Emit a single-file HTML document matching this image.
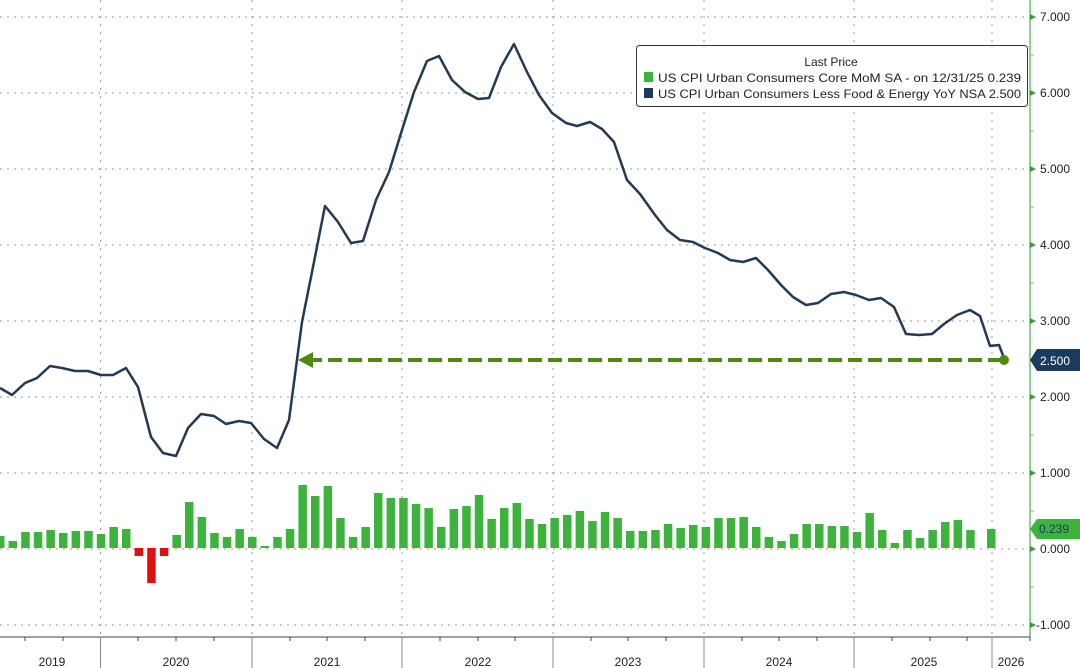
<!DOCTYPE html>
<html><head><meta charset="utf-8"><style>
html,body{margin:0;padding:0;background:#fff;}
svg{display:block;font-family:"Liberation Sans",sans-serif;}
</style></head><body>
<svg width="1080" height="668" viewBox="0 0 1080 668" xmlns="http://www.w3.org/2000/svg">
<rect width="1080" height="668" fill="#fff"/>
<!-- horizontal grid -->
<g stroke="#999" stroke-width="1" stroke-dasharray="2,5">
<line x1="0" y1="17" x2="1030" y2="17"/>
<line x1="0" y1="93" x2="1030" y2="93"/>
<line x1="0" y1="169" x2="1030" y2="169"/>
<line x1="0" y1="245" x2="1030" y2="245"/>
<line x1="0" y1="321" x2="1030" y2="321"/>
<line x1="0" y1="397" x2="1030" y2="397"/>
<line x1="0" y1="473" x2="1030" y2="473"/>
<line x1="0" y1="549" x2="1030" y2="549"/>
<line x1="0" y1="625" x2="1030" y2="625"/>
</g>
<g stroke="#999" stroke-width="1" stroke-dasharray="2,6">
<line x1="100.5" y1="0" x2="100.5" y2="637"/>
<line x1="252" y1="0" x2="252" y2="637"/>
<line x1="402" y1="0" x2="402" y2="637"/>
<line x1="553" y1="0" x2="553" y2="637"/>
<line x1="704" y1="0" x2="704" y2="637"/>
<line x1="854" y1="0" x2="854" y2="637"/>
<line x1="992" y1="0" x2="992" y2="637"/>
</g>
<!-- bars -->
<g fill="#3db33d">
<rect x="-4" y="536" width="8.5" height="12"/><rect x="8.6" y="541" width="8.5" height="7"/><rect x="21.2" y="532" width="8.5" height="16"/><rect x="33.8" y="532" width="8.5" height="16"/><rect x="46.4" y="530" width="8.5" height="18"/><rect x="59" y="533" width="8.5" height="15"/><rect x="71.6" y="531" width="8.5" height="17"/><rect x="84.2" y="531" width="8.5" height="17"/><rect x="96.8" y="534" width="8.5" height="14"/><rect x="109.4" y="527" width="8.5" height="21"/><rect x="122" y="529" width="8.5" height="19"/>
<rect x="172.4" y="535" width="8.5" height="13"/><rect x="185" y="502" width="8.5" height="46"/><rect x="197.6" y="517" width="8.5" height="31"/><rect x="210.2" y="533" width="8.5" height="15"/><rect x="222.8" y="537" width="8.5" height="11"/><rect x="235.4" y="529" width="8.5" height="19"/><rect x="248" y="537" width="8.5" height="11"/><rect x="260.6" y="546" width="8.5" height="2"/><rect x="273.2" y="537" width="8.5" height="11"/><rect x="285.8" y="529" width="8.5" height="19"/><rect x="298.4" y="485" width="8.5" height="63"/><rect x="311" y="496" width="8.5" height="52"/><rect x="323.6" y="486" width="8.5" height="62"/><rect x="336.2" y="518" width="8.5" height="30"/><rect x="348.8" y="537" width="8.5" height="11"/><rect x="361.4" y="527" width="8.5" height="21"/><rect x="374" y="493" width="8.5" height="55"/><rect x="386.6" y="498" width="8.5" height="50"/><rect x="399.2" y="498" width="8.5" height="50"/><rect x="411.8" y="504" width="8.5" height="44"/><rect x="424.4" y="508" width="8.5" height="40"/><rect x="437" y="527" width="8.5" height="21"/><rect x="449.6" y="509" width="8.5" height="39"/><rect x="462.2" y="506" width="8.5" height="42"/><rect x="474.8" y="495" width="8.5" height="53"/><rect x="487.4" y="519" width="8.5" height="29"/><rect x="500" y="508" width="8.5" height="40"/><rect x="512.6" y="503" width="8.5" height="45"/><rect x="525.2" y="519" width="8.5" height="29"/><rect x="537.8" y="524" width="8.5" height="24"/><rect x="550.4" y="518" width="8.5" height="30"/><rect x="563" y="515" width="8.5" height="33"/><rect x="575.6" y="511" width="8.5" height="37"/><rect x="588.2" y="521" width="8.5" height="27"/><rect x="600.8" y="512" width="8.5" height="36"/><rect x="613.4" y="518" width="8.5" height="30"/><rect x="626" y="531" width="8.5" height="17"/><rect x="638.6" y="531" width="8.5" height="17"/><rect x="651.2" y="530" width="8.5" height="18"/><rect x="663.8" y="524" width="8.5" height="24"/><rect x="676.4" y="528" width="8.5" height="20"/><rect x="689" y="525" width="8.5" height="23"/><rect x="701.6" y="527" width="8.5" height="21"/><rect x="714.2" y="518" width="8.5" height="30"/><rect x="726.8" y="518" width="8.5" height="30"/><rect x="739.4" y="517" width="8.5" height="31"/><rect x="752" y="527" width="8.5" height="21"/><rect x="764.6" y="537" width="8.5" height="11"/><rect x="777.2" y="541" width="8.5" height="7"/><rect x="789.8" y="534" width="8.5" height="14"/><rect x="802.4" y="524" width="8.5" height="24"/><rect x="815" y="524" width="8.5" height="24"/><rect x="827.6" y="526" width="8.5" height="22"/><rect x="840.2" y="526" width="8.5" height="22"/><rect x="852.8" y="532" width="8.5" height="16"/><rect x="865.4" y="513" width="8.5" height="35"/><rect x="878" y="530" width="8.5" height="18"/><rect x="890.6" y="543" width="8.5" height="5"/><rect x="903.2" y="530" width="8.5" height="18"/><rect x="915.8" y="538" width="8.5" height="10"/><rect x="928.4" y="530" width="8.5" height="18"/><rect x="941" y="522" width="8.5" height="26"/><rect x="953.6" y="520" width="8.5" height="28"/><rect x="966.2" y="530" width="8.5" height="18"/><rect x="987" y="529" width="8.5" height="19"/>
</g>
<g fill="#e01010">
<rect x="134.6" y="548" width="8.5" height="8"/><rect x="147.2" y="548" width="8.5" height="35"/><rect x="159.8" y="548" width="8.5" height="8"/>
</g>
<!-- line -->
<polyline fill="none" stroke="#233a55" stroke-width="2.5" stroke-linejoin="round" points="0,388 12,395 25,383 37,378 50,366 62,368 75,371 88,371 101,375 113,375 126,368 138,387 151,437 163,453 176,456 188,428 201,414 214,416 226,424 239,421 251,423 264,439 277,448 289,420 302,322 314,262 325,206 338,222 351,243 363,241 376,200 389,172 402,130 414,92 427,61 439,56 452,80 465,92 478,99 489,98 501,67 514,44 527,72 539,95 552,113 566,123 577,126 590,122 602,129 614,142 627,180 640,194 655,215 667,230 680,240 693,242 705,248 718,253 730,260 743,262 756,258 768,270 781,285 793,297 806,305 818,303 831,294 844,292 856,295 869,300 881,298 894,307 906,334 919,335 932,334 944,324 957,315 970,310 980,316 990,346 999,345 1004,358"/>
<!-- arrow -->
<line x1="308" y1="360" x2="1004" y2="360" stroke="#4f8a10" stroke-width="4" stroke-dasharray="14,6"/>
<polygon points="298,360 313,352 313,368" fill="#4f8a10"/>
<circle cx="1004" cy="360" r="5" fill="#4f8a10"/>
<!-- right axis -->
<line x1="1030" y1="0" x2="1030" y2="637" stroke="#6fbf6f" stroke-width="1.5"/>
<g fill="#3a9a3a">
<polygon points="1030,14 1036,17 1030,20"/><polygon points="1030,90 1036,93 1030,96"/><polygon points="1030,166 1036,169 1030,172"/><polygon points="1030,242 1036,245 1030,248"/><polygon points="1030,318 1036,321 1030,324"/><polygon points="1030,394 1036,397 1030,400"/><polygon points="1030,470 1036,473 1030,476"/><polygon points="1030,546 1036,549 1030,552"/><polygon points="1030,622 1036,625 1030,628"/>
</g>
<g stroke="#6fbf6f"><line x1="1030" y1="55" x2="1034" y2="55"/><line x1="1030" y1="131" x2="1034" y2="131"/><line x1="1030" y1="207" x2="1034" y2="207"/><line x1="1030" y1="283" x2="1034" y2="283"/><line x1="1030" y1="435" x2="1034" y2="435"/><line x1="1030" y1="511" x2="1034" y2="511"/><line x1="1030" y1="587" x2="1034" y2="587"/></g>
<g font-size="12" fill="#222">
<text x="1040" y="21">7.000</text><text x="1040" y="97">6.000</text><text x="1040" y="173">5.000</text><text x="1040" y="249">4.000</text><text x="1040" y="325">3.000</text><text x="1040" y="401">2.000</text><text x="1040" y="477">1.000</text><text x="1040" y="553">0.000</text><text x="1036" y="629">-1.000</text>
</g>
<polygon points="1030,360 1037,349 1080,349 1080,371 1037,371" fill="#1c3a5e"/>
<text x="1040" y="365" font-size="12" fill="#fff">2.500</text>
<polygon points="1030,529 1037,519 1080,519 1080,539 1037,539" fill="#3db33d"/>
<text x="1039" y="533" font-size="12" fill="#1c3a5e">0.239</text>
<!-- bottom axis -->
<line x1="0" y1="637" x2="1030" y2="637" stroke="#444" stroke-width="1"/>
<g stroke="#888" stroke-width="1">
<line x1="100.5" y1="637" x2="100.5" y2="668"/><line x1="252" y1="637" x2="252" y2="668"/><line x1="402" y1="637" x2="402" y2="668"/><line x1="553" y1="637" x2="553" y2="668"/><line x1="704" y1="637" x2="704" y2="668"/><line x1="854" y1="637" x2="854" y2="668"/><line x1="992" y1="637" x2="992" y2="668"/>
</g>
<g stroke="#444" stroke-width="1">
<line x1="25" y1="637" x2="25" y2="641"/><line x1="63" y1="637" x2="63" y2="641"/><line x1="138" y1="637" x2="138" y2="641"/><line x1="176" y1="637" x2="176" y2="641"/><line x1="214" y1="637" x2="214" y2="641"/><line x1="290" y1="637" x2="290" y2="641"/><line x1="327" y1="637" x2="327" y2="641"/><line x1="365" y1="637" x2="365" y2="641"/><line x1="440" y1="637" x2="440" y2="641"/><line x1="478" y1="637" x2="478" y2="641"/><line x1="515" y1="637" x2="515" y2="641"/><line x1="591" y1="637" x2="591" y2="641"/><line x1="628" y1="637" x2="628" y2="641"/><line x1="666" y1="637" x2="666" y2="641"/><line x1="742" y1="637" x2="742" y2="641"/><line x1="779" y1="637" x2="779" y2="641"/><line x1="817" y1="637" x2="817" y2="641"/><line x1="892" y1="637" x2="892" y2="641"/><line x1="930" y1="637" x2="930" y2="641"/><line x1="967" y1="637" x2="967" y2="641"/><line x1="1030" y1="637" x2="1030" y2="641"/>
</g>
<g font-size="12" fill="#222" text-anchor="middle">
<text x="52" y="666">2019</text><text x="176" y="666">2020</text><text x="327" y="666">2021</text><text x="478" y="666">2022</text><text x="628" y="666">2023</text><text x="779" y="666">2024</text><text x="924" y="666">2025</text><text x="1011" y="666">2026</text>
</g>
<!-- legend -->
<rect x="636.5" y="45.5" width="391" height="61" rx="3" fill="#fff" stroke="#333" stroke-width="1"/>
<text x="831" y="66" font-size="12" fill="#222" text-anchor="middle">Last Price</text>
<rect x="644" y="72" width="9" height="10" fill="#3db33d"/>
<rect x="644" y="88" width="9" height="10" fill="#1c3a5e"/>
<text x="658" y="82" font-size="12" fill="#222" textLength="363" lengthAdjust="spacingAndGlyphs">US CPI Urban Consumers Core MoM SA -  on 12/31/25 0.239</text>
<text x="658" y="98" font-size="12" fill="#222" textLength="363" lengthAdjust="spacingAndGlyphs">US CPI Urban Consumers Less Food &amp; Energy YoY NSA 2.500</text>
</svg>
</body></html>
